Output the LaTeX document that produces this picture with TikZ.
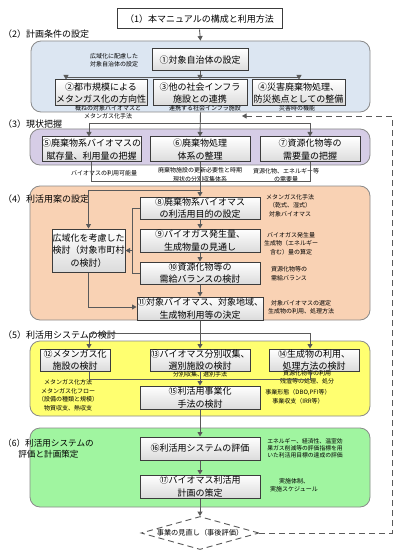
\documentclass[tikz,border=0pt]{standalone}
\usepackage{fontspec}
\setmainfont{Noto Sans CJK JP}
\usetikzlibrary{arrows.meta,shapes.geometric}
\definecolor{regblue}{HTML}{DCE6F2}
\definecolor{regpurple}{HTML}{D6CDE6}
\definecolor{regpeach}{HTML}{F9D2B4}
\definecolor{regyellow}{HTML}{FFFF70}
\definecolor{reggreen}{HTML}{A0F5A0}
\definecolor{regline}{HTML}{8A8A8A}
\definecolor{boxline}{HTML}{3C3C3C}
\definecolor{conncol}{HTML}{5A5A5A}
\tikzset{
 region/.style={draw=regline, line width=0.8pt, rounded corners=10pt, inner sep=0},
 stepbox/.style={draw=boxline, line width=1pt, top color=white, bottom color=black!14, inner sep=0, align=center, font=\fontsize{9}{12.5}\selectfont},
 note/.style={inner sep=0, align=center, font=\fontsize{6}{8.5}\selectfont},
 sect/.style={inner sep=0, anchor=west, font=\fontsize{9}{11}\selectfont},
 conn/.style={draw=conncol, line width=0.9pt},
 arr/.style={conn, -{Triangle[length=4.5pt,width=5pt]}},
 fb/.style={draw=conncol, line width=0.9pt, dash pattern=on 6pt off 4pt}
}
\begin{document}
\begin{tikzpicture}[x=1pt,y=-1pt]
\useasboundingbox[fill=white] (0,0) rectangle (400,556);

% regions
\node[region, fill=regblue, minimum width=339pt, minimum height=71pt] (r2) at (200.5,76.5) {};
\node[region, fill=regpurple, minimum width=340pt, minimum height=36pt] (r3) at (200,147) {};
\node[region, fill=regpeach, minimum width=340pt, minimum height=134pt] (r4) at (200,253) {};
\node[region, fill=regyellow, minimum width=340pt, minimum height=75pt] (r5) at (200,378.5) {};
\node[region, fill=reggreen, minimum width=340pt, minimum height=79pt] (r6) at (200,467.5) {};

% section labels
\node[sect] (s2) at (3,34) {（2）計画条件の設定};
\node[sect] (s3) at (3,124) {（3）現状把握};
\node[sect] (s4) at (3,199) {（4）利活用案の設定};
\node[sect] (s5) at (3,335) {（5）利活用システムの検討};
\node[inner sep=0, anchor=west, align=center, font=\fontsize{8.6}{11}\selectfont] (s6) at (3,448.5) {（6）利活用システムの\\評価と計画策定};

% boxes
\node[draw=boxline, line width=1pt, fill=white, inner sep=0, font=\fontsize{9}{12}\selectfont, minimum width=165pt, minimum height=20pt] (b1) at (199.5,19) {（1）本マニュアルの構成と利用方法};
\node[stepbox, minimum width=96pt, minimum height=22pt] (bA) at (200,60) {①対象自治体の設定};
\node[stepbox, minimum width=92pt, minimum height=26pt] (b2) at (101,93) {②都市規模による\\メタンガス化の方向性};
\node[stepbox, minimum width=94pt, minimum height=26pt] (b3) at (200,93) {③他の社会インフラ\\施設との連携};
\node[stepbox, minimum width=93pt, minimum height=26pt] (b4) at (298.5,93) {④災害廃棄物処理、\\防災拠点としての整備};

\node[stepbox, minimum width=95pt, minimum height=25pt] (b5) at (91.5,149.5) {⑤廃棄物系バイオマスの\\賦存量、利用量の把握};
\node[stepbox, minimum width=100pt, minimum height=25pt] (b6) at (200,149.5) {⑥廃棄物処理\\体系の整理};
\node[stepbox, minimum width=100pt, minimum height=25pt] (b7) at (310,149.5) {⑦資源化物等の\\需要量の把握};

\node[stepbox, minimum width=120pt, minimum height=22pt] (b8) at (200,208) {⑧廃棄物系バイオマス\\の利活用目的の設定};
\node[stepbox, minimum width=120pt, minimum height=23pt] (b9) at (200,240.5) {⑨バイオガス発生量、\\生成物量の見通し};
\node[stepbox, minimum width=120pt, minimum height=22pt] (b10) at (200,273) {⑩資源化物等の\\需給バランスの検討};
\node[stepbox, minimum width=120pt, minimum height=23pt] (b11) at (200,308.5) {⑪対象バイオマス、対象地域、\\生成物利用等の決定};
\node[stepbox, minimum width=73pt, minimum height=43pt] (bW) at (88.5,250.5) {広域化を考慮した\\検討（対象市町村\\の検討）};

\node[stepbox, minimum width=70pt, minimum height=22pt] (b12) at (75,360) {⑫メタンガス化\\施設の検討};
\node[stepbox, minimum width=100pt, minimum height=22pt] (b13) at (200,360) {⑬バイオマス分別収集、\\選別施設の検討};
\node[stepbox, minimum width=90pt, minimum height=22pt] (b14) at (314,360) {⑭生成物の利用、\\処理方法の検討};
\node[stepbox, minimum width=120pt, minimum height=23pt] (b15) at (200,397.5) {⑮利活用事業化\\手法の検討};

\node[stepbox, minimum width=120pt, minimum height=23pt] (b16) at (200,448.5) {⑯利活用システムの評価};
\node[stepbox, minimum width=120pt, minimum height=23pt] (b17) at (200,486.5) {⑰バイオマス利活用\\計画の策定};

\node[diamond, draw=conncol, line width=0.9pt, dash pattern=on 6pt off 4pt, fill=white, inner sep=0, minimum width=118pt, minimum height=33pt] (dv) at (200,533) {};
\node[inner sep=0, font=\fontsize{7.2}{9}\selectfont] (dvt) at (200,533) {事業の見直し（事後評価）};

% notes
\node[note] (n1) at (114,60) {広域化に配慮した\\対象自治体の設定};
\node[note] (n2) at (108,112) {概ねの対象バイオマスと\\メタンガス化手法};
\node[note] (n3) at (205,108.5) {連携する社会インフラ施設};
\node[note] (n4) at (297,108.5) {災害時の機能};
\node[note] (n5) at (104,173.5) {バイオマスの利用可能量};
\node[note] (n6) at (200,174.5) {廃棄物施設の更新必要性と時期\\現状の分別収集体系};
\node[note] (n7) at (286,175) {資源化物、エネルギー等\\の需要量};
\node[note] (n8) at (290,205.5) {メタンガス化手法\\（乾式、湿式）\\対象バイオマス};
\node[note] (n9) at (291,243.5) {バイオガス発生量\\生成物（エネルギー\\含む）量の算定};
\node[note] (n10) at (289,273.5) {資源化物等の\\需給バランス};
\node[note] (n11) at (301,307) {対象バイオマスの選定\\生成物の利用、処理方法};
\node[note] (n12) at (200,374.5) {分別収集、選別手法};
\node[note] (n13) at (307,377) {資源化物等の利用\\残渣等の処理、処分};
\node[note] (n14) at (68,395) {メタンガス化方法\\メタンガス化フロー\\（設備の種類と規模）\\物質収支、熱収支};
\node[note] (n15) at (298,396.5) {事業形態（DBO,PFI等）\\事業収支（IRR等）};
\node[note, font=\fontsize{5.8}{7}\selectfont] (n16) at (305,448) {エネルギー、経済性、温室効\\果ガス削減等の評価指標を用\\いた利活用目標の達成の評価};
\node[note] (n17) at (294,485) {実施体制、\\実施スケジュール};

% connectors (1)-(2)
\draw[arr] (b1.south) -- (r2.north);
\draw[arr] (bA.south) -- (b3.north);
\coordinate (j1) at (66,77);
\coordinate (j2) at (299,77);
\draw[conn] (j1) -- (j2);
\draw[arr] (j1) -- (j1 |- b2.north);
\draw[arr] (j2) -- (j2 |- b4.north);

% (2)-(3)
\draw[arr] (r2.south) -- (b6.north);
\coordinate (j3) at (89,123);
\coordinate (j4) at (310,123);
\draw[conn] (j3) -- (j4);
\draw[arr] (j3) -- (j3 |- b5.north);
\draw[arr] (j4) -- (j4 |- b7.north);

% (3)-(4)
\coordinate (j5) at (91.5,181);
\coordinate (j6) at (310,181);
\draw[conn] (b5.south) -- (j5) -- (j6) -- (b7.south);
\draw[arr] (b6.south) -- (b8.north);
\coordinate (j7) at (200,190);
\coordinate (j8) at (88.5,190);
\draw[arr] (j7) -- (j8) -- (bW.north);
\draw[arr] (b8.south) -- (b9.north);
\draw[arr] (b9.south) -- (b10.north);
\draw[arr] (b10.south) -- (b11.north);
\coordinate (k1) at (132,208);
\coordinate (k2) at (132,273);
\coordinate (k3) at (132,250.5);
\draw[conn] (b8.west) -- (k1) -- (k2) -- (b10.west);
\draw[arr] (k3) -- (bW.east);
\coordinate (k4) at (88.5,307);
\draw[arr] (bW.south) -- (k4) -- (k4 -| b11.west);

% (4)-(5)
\draw[arr] (b11.south) -- (b13.north);
\coordinate (j9) at (89,333);
\coordinate (j10) at (310,333);
\draw[conn] (j9) -- (j10);
\draw[arr] (j9) -- (j9 |- b12.north);
\draw[arr] (j10) -- (j10 |- b14.north);
\coordinate (m1) at (89,379);
\coordinate (m2) at (310,379);
\draw[conn] (m1 |- b12.south) -- (m1) -- (m2) -- (m2 |- b14.south);
\draw[arr] (b13.south) -- (b15.north);

% (5)-(6)
\draw[arr] (b15.south) -- (b16.north);
\draw[arr] (b16.south) -- (b17.north);
\draw[arr] (b17.south) -- (dv.north);

% feedback
\coordinate (f1) at (392,533);
\coordinate (f2) at (392,116);
\coordinate (f3) at (242,116);
\draw[fb, -{Triangle[length=4.5pt,width=5pt]}] (dv.east) -- (f1) -- (f2) -- (f3);
\end{tikzpicture}
\end{document}
